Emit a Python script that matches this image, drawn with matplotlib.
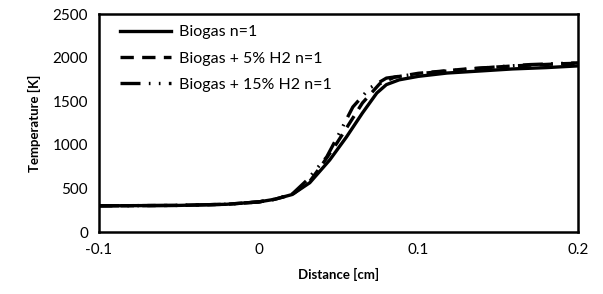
import matplotlib.pyplot as plt
import numpy as np

plt.rcParams['font.family'] = ['Lato', 'DejaVu Sans']

# distance [cm] and temperature [K]
x_bio = [-0.1, -0.05, -0.02, 0.0, 0.01, 0.021, 0.032, 0.0445, 0.055, 0.065, 0.074, 0.080, 0.088, 0.10, 0.118, 0.14, 0.159, 0.18, 0.2]
t_bio = [300, 305, 318, 345, 375, 430, 565, 826, 1090, 1365, 1594, 1690, 1745, 1785, 1823, 1848, 1870, 1885, 1905]

x_h5 = [-0.1, -0.05, -0.02, 0.0, 0.01, 0.021, 0.032, 0.040, 0.049, 0.057, 0.065, 0.0758, 0.085, 0.10, 0.13, 0.16, 0.19, 0.2]
t_h5 = [300, 305, 318, 345, 375, 430, 580, 780, 1020, 1250, 1480, 1700, 1775, 1820, 1870, 1905, 1930, 1935]

x_h15 = [-0.1, -0.05, -0.02, 0.0, 0.01, 0.021, 0.030, 0.0426, 0.051, 0.059, 0.0695, 0.074, 0.080, 0.10, 0.12, 0.15, 0.17, 0.2]
t_h15 = [300, 305, 318, 345, 375, 435, 590, 860, 1150, 1434, 1650, 1700, 1765, 1815, 1850, 1895, 1920, 1940]

fig = plt.figure(figsize=(6.03, 2.94), dpi=100)
ax = fig.add_axes([99/603, 1-232/294, (578-99)/603, (232-14)/294])

ax.plot(x_bio, t_bio, color='black', lw=2.4, ls='-', label='Biogas n=1')
ax.plot(x_h5, t_h5, color='black', lw=2.4, ls=(0, (4, 2.5)), label='Biogas + 5% H2 n=1')
ax.plot(x_h15, t_h15, color='black', lw=2.4, ls=(0, (6, 2.5, 0.5, 2.5, 0.5, 2.5)),
        label='Biogas + 15% H2 n=1')

ax.set_xlim(-0.1, 0.2)
ax.set_ylim(0, 2500)
ax.set_xticks([-0.1, 0, 0.1, 0.2])
ax.set_xticklabels(['-0.1', '0', '0.1', '0.2'])
ax.set_yticks([0, 500, 1000, 1500, 2000, 2500])
ax.tick_params(length=0, labelsize=11, pad=8)
for s in ax.spines.values():
    s.set_linewidth(1.8)
ax.set_xlabel('Distance [cm]', fontsize=9.5, fontweight='bold', labelpad=8)
ax.set_ylabel('Temperature [K]', fontsize=9.5, fontweight='bold', labelpad=8)

ax.legend(loc='upper left', frameon=False, fontsize=11.5, handlelength=3.2,
          handletextpad=0.5, labelspacing=0.75, borderaxespad=0.3,
          bbox_to_anchor=(0.02, 1.0))

fig.savefig('out.png', dpi=100)
